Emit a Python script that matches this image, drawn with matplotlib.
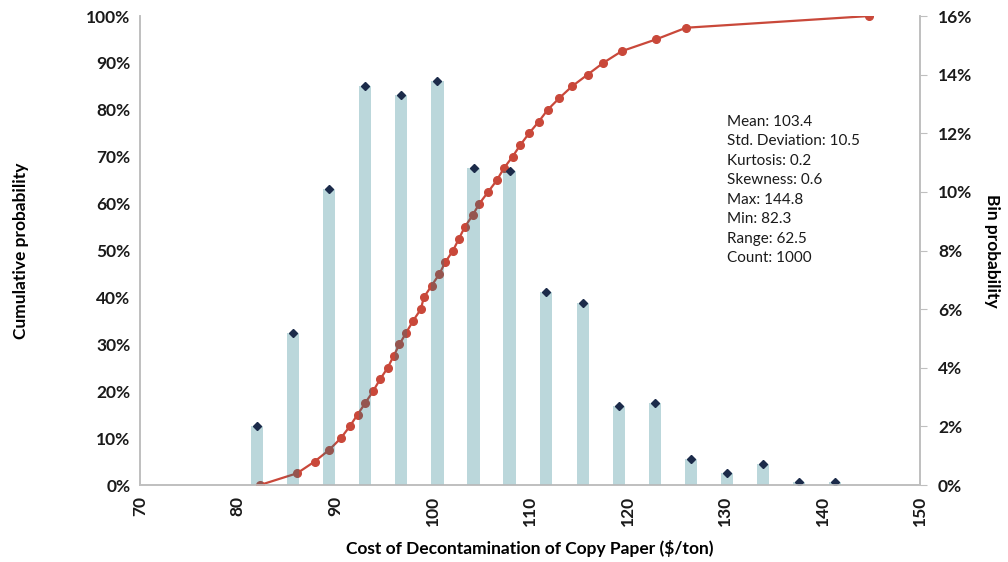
import matplotlib.pyplot as plt
import numpy as np

plt.rcParams['font.family'] = ['Lato', 'DejaVu Sans']

# bin centres ($/ton) and bin probabilities (%)
bin_centers = [82.0, 85.7, 89.4, 93.1, 96.8, 100.5, 104.2, 107.9, 111.6,
               115.4, 119.1, 122.8, 126.5, 130.2, 133.9, 137.6, 141.3]
bin_prob = [2.0, 5.2, 10.1, 13.6, 13.3, 13.8, 10.8, 10.7, 6.6,
            6.2, 2.7, 2.8, 0.9, 0.4, 0.7, 0.1, 0.1]

# cumulative curve: cost at each 2.5% step
cum_x = [82.3, 86.1, 87.9, 89.4, 90.6, 91.5, 92.3, 93.1, 93.9, 94.6,
         95.4, 96.0, 96.6, 97.3, 98.0, 98.8, 99.1, 99.9, 100.7, 101.3,
         102.1, 102.7, 103.3, 104.1, 104.8, 105.7, 106.6, 107.3, 108.2, 109.0,
         109.9, 110.9, 111.8, 113.0, 114.3, 115.9, 117.5, 119.4, 122.9, 126.0,
         144.8]
cum_y = [0.0, 2.5, 5.0, 7.5, 10.0, 12.5, 15.0, 17.5, 20.0, 22.5,
         25.0, 27.5, 30.0, 32.5, 35.0, 37.5, 40.0, 42.5, 45.0, 47.5,
         50.0, 52.5, 55.0, 57.5, 60.0, 62.5, 65.0, 67.5, 70.0, 72.5,
         75.0, 77.5, 80.0, 82.5, 85.0, 87.5, 90.0, 92.5, 95.0, 97.5,
         100.0]

stats = ["Mean: 103.4", "Std. Deviation: 10.5", "Kurtosis: 0.2",
         "Skewness: 0.6", "Max: 144.8", "Min: 82.3", "Range: 62.5",
         "Count: 1000"]

fig = plt.figure(figsize=(10.08, 5.62), dpi=100)
ax = fig.add_axes([0.139, 0.137, 0.7737, 0.8345])
ax2 = ax.twinx()

# cumulative line (left axis)
ax.plot(cum_x, cum_y, color="#C9483A", lw=1.6, marker="o", ms=5.5,
        zorder=3)

# bins (right axis) drawn over the line, semi-transparent
ax2.bar(bin_centers, bin_prob, width=1.25, color="#167684", alpha=0.29,
        linewidth=0)
ax2.plot(bin_centers, bin_prob, ls="none", marker="D", ms=4.5,
         color="#1C2B4A")

ax.set_xlim(70, 150)
ax.set_ylim(0, 100)
ax2.set_ylim(0, 16)
ax.set_xticks(np.arange(70, 151, 10))
ax.set_yticks(np.arange(0, 101, 10))
ax2.set_yticks(np.arange(0, 17, 2))
ax.set_yticklabels([f"{v}%" for v in range(0, 101, 10)])
ax2.set_yticklabels([f"{v}%" for v in range(0, 17, 2)])
ax.set_xticklabels([str(v) for v in range(70, 151, 10)], rotation=90)

for a in (ax, ax2):
    a.spines["top"].set_visible(False)
    for s in ("left", "right", "bottom"):
        a.spines[s].set_color("#BFBFBF")
        a.spines[s].set_linewidth(1.2)
    for lab in a.get_xticklabels() + a.get_yticklabels():
        lab.set_fontweight("bold")
        lab.set_fontsize(12.5)
        lab.set_color("#1A1A1A")

ax.tick_params(axis="y", length=0, pad=7)
ax.tick_params(axis="x", length=0, pad=8)
ax2.tick_params(axis="y", length=5, color="#BFBFBF", pad=8)

ax.set_xlabel("Cost of Decontamination of Copy Paper (\\$/ton)",
              fontsize=12.5, fontweight="bold", labelpad=10)
ax.set_ylabel("Cumulative probability", fontsize=12.5, fontweight="bold",
              labelpad=41)
ax2.set_ylabel("Bin probability", fontsize=12.5, fontweight="bold",
               rotation=270, labelpad=20)

ax2.text(0.752, 0.79, "\n".join(stats), transform=ax.transAxes,
         fontsize=11, va="top", ha="left", linespacing=1.5,
         color="#1A1A1A")

fig.savefig("out.png", dpi=100)
